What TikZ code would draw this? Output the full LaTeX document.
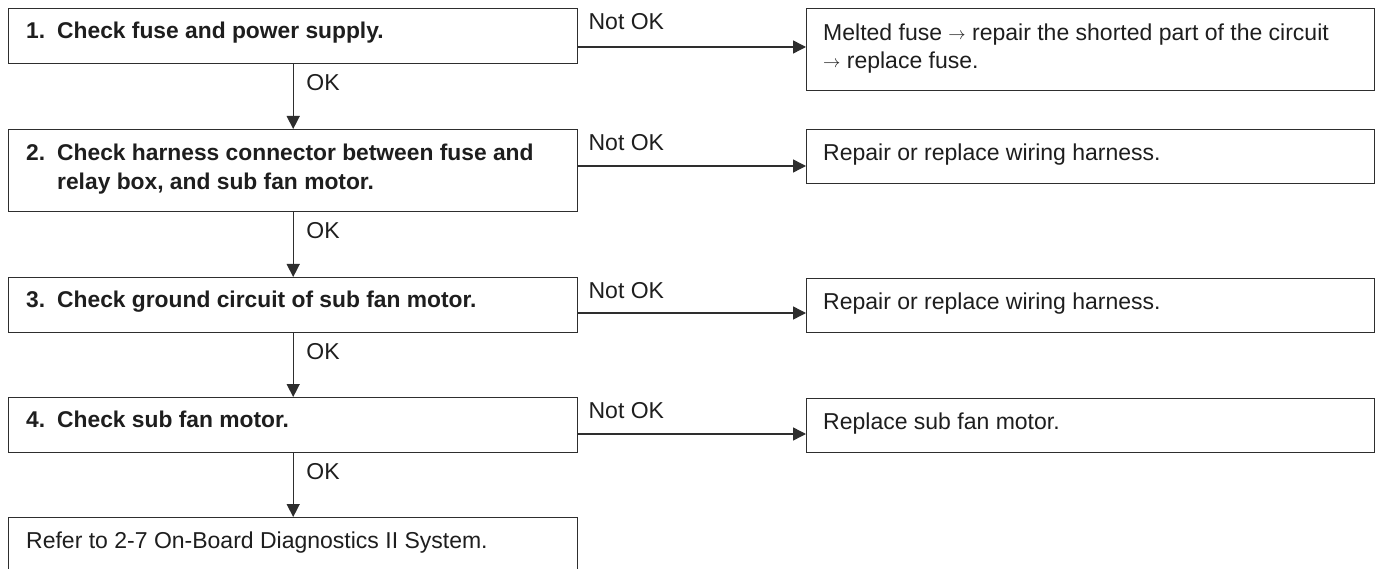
\documentclass[tikz,border=0pt]{standalone}
\usepackage{fontspec}
\setmainfont{Liberation Sans}
\usetikzlibrary{arrows.meta}
\definecolor{linec}{HTML}{2E2E2E}
\definecolor{txtc}{HTML}{1E1E1E}
\newcommand{\sarr}{\raisebox{1.2pt}{\fontsize{19}{19}\selectfont$\rightarrow$}}
\begin{document}
\begin{tikzpicture}[x=1pt,y=-1pt,
  box/.style={draw=linec, line width=1.4pt, inner sep=0pt, anchor=north west, minimum width=569pt},
  rbox/.style={draw=linec, line width=1.4pt, inner sep=0pt, anchor=north west, minimum width=568pt},
  btxt/.style={anchor=north west, inner sep=0pt, align=left, text=txtc, font=\bfseries\fontsize{22.8}{29}\selectfont},
  rtxt/.style={anchor=north west, inner sep=0pt, align=left, text=txtc, font=\fontsize{23}{28}\selectfont},
  lbl/.style={anchor=west, inner sep=0pt, text=txtc, font=\fontsize{23}{28}\selectfont},
  arr/.style={draw=linec, line width=1.4pt, -{Triangle[length=13pt,width=13pt]}}]
\clip (0,0) rectangle (1375,569);
\fill[white] (0,0) rectangle (1375,569);
% left column boxes
\node[box, minimum height=55pt] (s1) at (8,8) {};
\node[box, minimum height=82pt] (s2) at (8,129) {};
\node[box, minimum height=55pt] (s3) at (8,277) {};
\node[box, minimum height=55pt] (s4) at (8,397) {};
\node[box, minimum height=70pt] (s5) at (8,517) {};
% right column boxes
\node[rbox, minimum height=82pt] (r1) at (806,8) {};
\node[rbox, minimum height=54pt] (r2) at (806,129) {};
\node[rbox, minimum height=54pt] (r3) at (806,278) {};
\node[rbox, minimum height=54pt] (r4) at (806,398) {};
% texts
\node[btxt] (t1) at (26,22) {\makebox[31pt][l]{1.}Check fuse and power supply.};
\node[btxt] (t2) at (26,144) {\makebox[31pt][l]{2.}Check harness connector between fuse and\\\hspace*{31pt}relay box, and sub fan motor.};
\node[btxt] (t3) at (26,291) {\makebox[31pt][l]{3.}Check ground circuit of sub fan motor.};
\node[btxt] (t4) at (26,411) {\makebox[31pt][l]{4.}Check sub fan motor.};
\node[rtxt] (t5) at (26,532) {Refer to 2-7 On-Board Diagnostics II System.};
\node[rtxt] (u1) at (823,24) {Melted fuse \sarr\ repair the shorted part of the circuit\\\sarr\ replace fuse.};
\node[rtxt] (u2) at (823,144) {Repair or replace wiring harness.};
\node[rtxt] (u3) at (823,293) {Repair or replace wiring harness.};
\node[rtxt] (u4) at (823,413) {Replace sub fan motor.};
% vertical connectors
\draw[arr] (s1.south) -- (s2.north);
\draw[arr] (s2.south) -- (s3.north);
\draw[arr] (s3.south) -- (s4.north);
\draw[arr] (s4.south) -- (s5.north);
\node[lbl] (ok1) at ([xshift=13pt,yshift=-18pt]s1.south) {OK};
\node[lbl] (ok2) at ([xshift=13pt,yshift=-18pt]s2.south) {OK};
\node[lbl] (ok3) at ([xshift=13pt,yshift=-18pt]s3.south) {OK};
\node[lbl] (ok4) at ([xshift=13pt,yshift=-18pt]s4.south) {OK};
% horizontal connectors
\coordinate (h1) at ([yshift=-39pt]s1.north east);
\coordinate (h2) at ([yshift=-37pt]s2.north east);
\coordinate (h3) at ([yshift=-36pt]s3.north east);
\coordinate (h4) at ([yshift=-37pt]s4.north east);
\draw[arr] (h1) -- (h1 -| r1.west);
\draw[arr] (h2) -- (h2 -| r2.west);
\draw[arr] (h3) -- (h3 -| r3.west);
\draw[arr] (h4) -- (h4 -| r4.west);
\node[lbl] (n1) at ([xshift=10pt,yshift=-14pt]s1.north east) {Not OK};
\node[lbl] (n2) at ([xshift=10pt,yshift=-14pt]s2.north east) {Not OK};
\node[lbl] (n3) at ([xshift=10pt,yshift=-14pt]s3.north east) {Not OK};
\node[lbl] (n4) at ([xshift=10pt,yshift=-14pt]s4.north east) {Not OK};
\end{tikzpicture}
\end{document}
